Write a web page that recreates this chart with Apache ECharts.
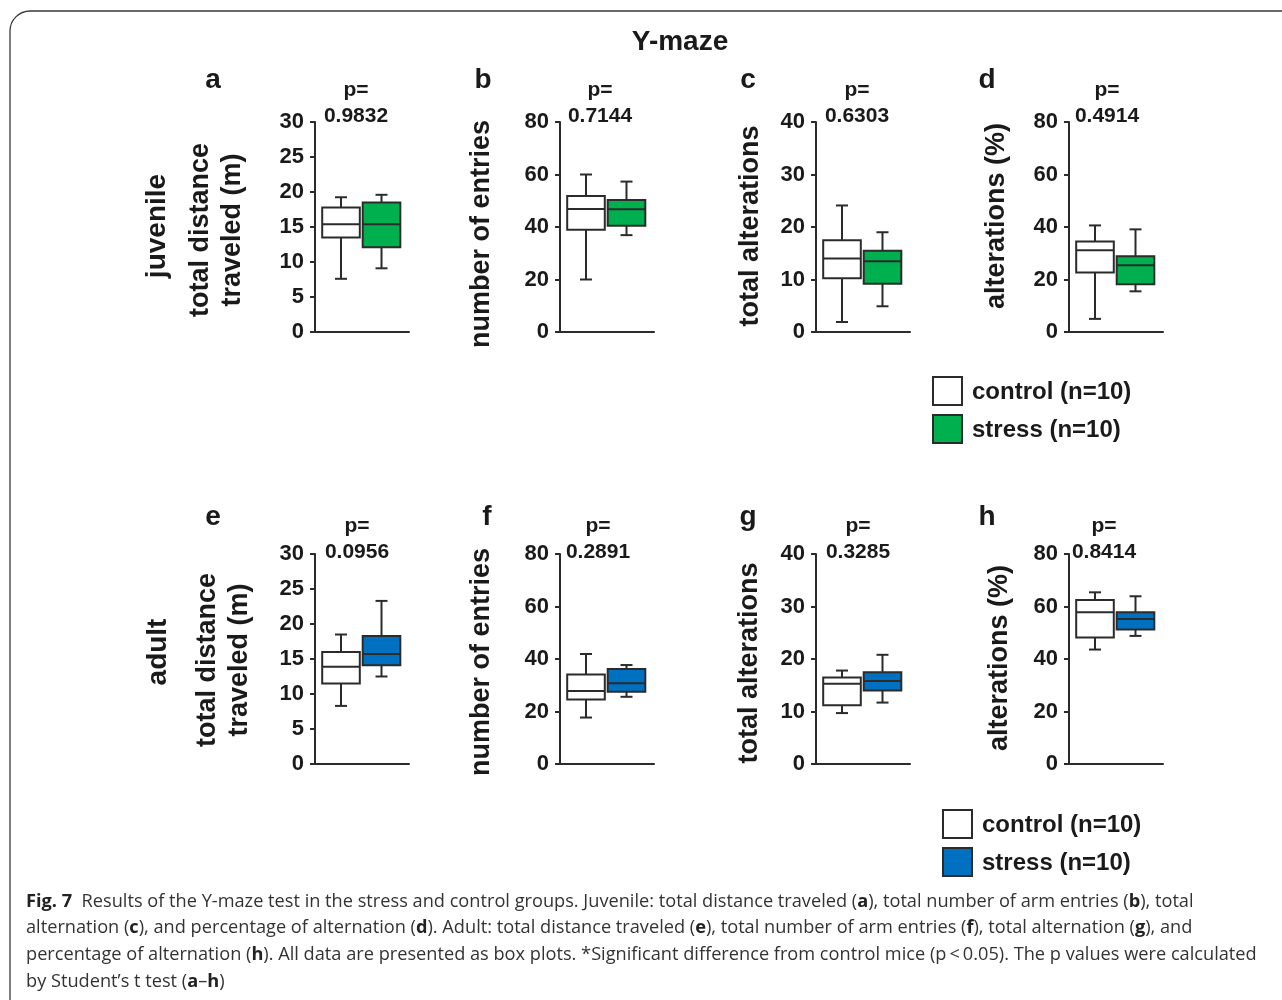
<!DOCTYPE html>
<html>
<head>
<meta charset="utf-8">
<script src="https://cdn.jsdelivr.net/npm/echarts@6/dist/echarts.min.js"></script>
<style>
html,body{margin:0;padding:0;background:#fff;}
#chart{width:1282px;height:1000px;}
</style>
</head>
<body>
<div id="chart"></div>
<script>
// ---- data ----
const title = 'Y-maze';
const groups = ['control (n=10)', 'stress (n=10)'];
const rowLabels = ['juvenile', 'adult'];
const panelLetters = ['a', 'b', 'c', 'd', 'e', 'f', 'g', 'h'];
const pValues = ['0.9832', '0.7144', '0.6303', '0.4914', '0.0956', '0.2891', '0.3285', '0.8414'];
const yNames = [
  ['total distance', 'traveled (m)'], ['number of entries'], ['total alterations'], ['alterations (%)'],
  ['total distance', 'traveled (m)'], ['number of entries'], ['total alterations'], ['alterations (%)']
];
const yMax = [30, 80, 40, 80, 30, 80, 40, 80];
const yInterval = [5, 20, 10, 20, 5, 20, 10, 20];
// box stats: [min, Q1, median, Q3, max]
const controlJuvenile = [[7.6, 13.5, 15.4, 17.8, 19.25], [20, 39, 46.9, 51.8, 60], [1.9, 10.25, 14, 17.5, 24.1], [5, 22.7, 31.1, 34.5, 40.6]];
const stressJuvenile  = [[9.1, 12.1, 15.4, 18.5, 19.6], [36.9, 40.5, 46.8, 50.3, 57.3], [4.9, 9.2, 13.5, 15.5, 19], [15.5, 18.2, 25.4, 28.9, 39.1]];
const controlAdult    = [[8.3, 11.5, 13.9, 16, 18.5], [17.7, 24.6, 27.8, 34.1, 41.9], [9.7, 11.2, 15.3, 16.5, 17.8], [43.6, 48.2, 57.8, 62.5, 65.4]];
const stressAdult     = [[12.5, 14.1, 15.7, 18.3, 23.3], [25.6, 27.5, 30.8, 36.2, 37.7], [11.7, 14, 15.8, 17.5, 20.8], [48.8, 51.2, 55.2, 57.8, 63.9]];
const captionLines = [
  '{b|Fig. 7}  Results of the Y-maze test in the stress and control groups. Juvenile: total distance traveled ({b|a}), total number of arm entries ({b|b}), total',
  'alternation ({b|c}), and percentage of alternation ({b|d}). Adult: total distance traveled ({b|e}), total number of arm entries ({b|f}), total alternation ({b|g}), and',
  'percentage of alternation ({b|h}). All data are presented as box plots. *Significant difference from control mice (p\u2009<\u20090.05). The p values were calculated',
  'by Student\u2019s t test ({b|a}\u2013{b|h})'
];

// ---- layout / style ----
const FONT = '"Liberation Sans", Arial, sans-serif';
const CAPFONT = '"Open Sans", sans-serif';
const CAPSIZE = 18.2;
const INK = '#1a1a1a';
const LINE = '#2b2b2b';
const rowFill = ['#00b04f', '#0070c0'];
const gridLefts = [315, 560, 816, 1069];
const gridTops = [122, 554];
const gridW = 94, gridH = 210;
const boxShift = [2.5, -4];

const controlAll = controlJuvenile.concat(controlAdult);
const stressAll = stressJuvenile.concat(stressAdult);

const grids = [], xAxes = [], yAxes = [], series = [], graphics = [];

for (let i = 0; i < 8; i++) {
  const row = Math.floor(i / 4), col = i % 4;
  grids.push({left: gridLefts[col], top: gridTops[row], width: gridW, height: gridH});
  xAxes.push({
    type: 'category', gridIndex: i, data: groups,
    axisLine: {lineStyle: {color: LINE, width: 2}},
    axisTick: {show: false}, axisLabel: {show: false}, splitLine: {show: false}
  });
  yAxes.push({
    type: 'value', gridIndex: i, min: 0, max: yMax[i], interval: yInterval[i],
    axisLine: {show: true, lineStyle: {color: LINE, width: 2}},
    axisTick: {show: true, length: 5, lineStyle: {color: LINE, width: 2}},
    axisLabel: {fontFamily: FONT, fontWeight: 'bold', fontSize: 22, color: INK, margin: 11},
    splitLine: {show: false}
  });
  const fill = rowFill[row];
  series.push({
    type: 'custom', xAxisIndex: i, yAxisIndex: i,
    encode: {x: 0, y: [1, 2, 3, 4, 5]},
    data: [[0].concat(controlAll[i]), [1].concat(stressAll[i])],
    renderItem: function (params, api) {
      const cat = api.value(0);
      const band = api.size([1, 0])[0];
      const w = band * 0.8;
      const cx = api.coord([cat, 0])[0] + boxShift[cat];
      const yv = [1, 2, 3, 4, 5].map(k => api.coord([cat, api.value(k)])[1]);
      const cap = 12;
      const st = {stroke: LINE, lineWidth: 2, fill: null};
      return {
        type: 'group',
        children: [
          {type: 'line', shape: {x1: cx, y1: yv[4], x2: cx, y2: yv[3]}, style: st},
          {type: 'line', shape: {x1: cx, y1: yv[1], x2: cx, y2: yv[0]}, style: st},
          {type: 'line', shape: {x1: cx - cap / 2, y1: yv[4], x2: cx + cap / 2, y2: yv[4]}, style: st},
          {type: 'line', shape: {x1: cx - cap / 2, y1: yv[0], x2: cx + cap / 2, y2: yv[0]}, style: st},
          {type: 'rect', shape: {x: cx - w / 2, y: yv[3], width: w, height: yv[1] - yv[3]},
            style: {fill: cat === 0 ? '#ffffff' : fill, stroke: LINE, lineWidth: 2}},
          {type: 'line', shape: {x1: cx - w / 2, y1: yv[2], x2: cx + w / 2, y2: yv[2]}, style: st}
        ]
      };
    }
  });
}

function txt(x, y, text, size, opts) {
  return Object.assign({
    type: 'text', x: x, y: y,
    style: {text: text, fontFamily: FONT, fontWeight: 'bold', fontSize: size, fill: INK, align: 'center', verticalAlign: 'middle'}
  }, opts || {});
}

// frame
graphics.push({type: 'rect', shape: {x: 10, y: 11, width: 1300, height: 1100, r: 20}, style: {fill: null, stroke: '#3a3a3a', lineWidth: 1.3}, z: 0});
// title
graphics.push(txt(680, 42, title, 28));
// row labels
graphics.push(txt(157, 226, rowLabels[0], 28, {rotation: Math.PI / 2}));
graphics.push(txt(158, 652, rowLabels[1], 28, {rotation: Math.PI / 2}));

const letterPos = [[213, 80], [483, 80], [748, 80], [987, 80], [213, 517], [487, 517], [748, 517], [987, 517]];
const pPos = [[356, 116], [600, 116], [857, 116], [1107, 116], [357, 552], [598, 552], [858, 552], [1104, 552]];
const namePos = [[[201, 230], [233, 230]], [[482, 234]], [[751, 226]], [[997, 216]],
                 [[208, 660], [240, 660]], [[482, 662]], [[750, 663]], [[1000, 658]]];
for (let i = 0; i < 8; i++) {
  graphics.push(txt(letterPos[i][0], letterPos[i][1], panelLetters[i], 28));
  graphics.push(txt(pPos[i][0], pPos[i][1] - 26, 'p=', 21));
  graphics.push(txt(pPos[i][0], pPos[i][1], pValues[i], 21));
  yNames[i].forEach((line, k) => {
    graphics.push(txt(namePos[i][k][0], namePos[i][k][1], line, 27, {rotation: Math.PI / 2}));
  });
}

// legends
const legendPos = [[933, 377], [943, 810]];
for (let r = 0; r < 2; r++) {
  const [lx, ly] = legendPos[r];
  [0, 1].forEach(k => {
    const y = ly + k * 38;
    graphics.push({type: 'rect', shape: {x: lx, y: y, width: 29, height: 28}, style: {fill: k === 0 ? '#fff' : rowFill[r], stroke: LINE, lineWidth: 2}});
    graphics.push({type: 'text', x: lx + 39, y: y + 15,
      style: {text: groups[k], fontFamily: FONT, fontWeight: 'bold', fontSize: 24, fill: INK, align: 'left', verticalAlign: 'middle'}});
  });
}

// caption
captionLines.forEach((line, k) => {
  graphics.push({
    type: 'text', x: 26, y: 901.5 + k * 26.7,
    style: {
      text: line, fontFamily: CAPFONT, fontSize: CAPSIZE, fill: '#333',
      align: 'left', verticalAlign: 'middle',
      rich: {b: {fontFamily: CAPFONT, fontWeight: 'bold', fontSize: CAPSIZE, fill: '#222'}}
    }
  });
});

const chart = echarts.init(document.getElementById('chart'), null, {renderer: 'canvas', width: 1282, height: 1000});
chart.setOption({
  animation: false,
  backgroundColor: '#ffffff',
  grid: grids, xAxis: xAxes, yAxis: yAxes, series: series,
  graphic: graphics
});
</script>
</body>
</html>
